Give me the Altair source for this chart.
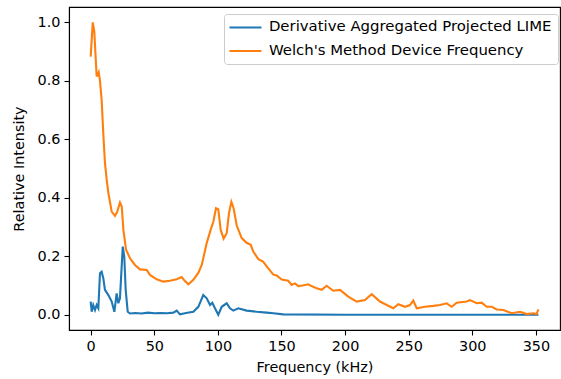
import altair as alt
import pandas as pd

series_names = ["Derivative Aggregated Projected LIME", "Welch's Method Device Frequency"]
series_colors = ["#1f77b4", "#ff7f0e"]

lime_freq = [0, 0.8, 2, 3.4, 4.7, 6, 7.3, 8.6, 9.9, 11.2, 13.9, 16.5, 18.6, 20.4, 21.7, 23,
             25.2, 26.4, 27.5, 29.1, 31, 35, 40, 45, 50, 55, 60, 65, 67.6, 70.2, 75, 80.7,
             84.6, 88.5, 91.2, 93.8, 95.6, 97.7, 100.3, 103, 106.9, 109.5, 112.1, 116,
             122.6, 130.5, 138.4, 143.6, 151.4, 200, 260, 352]
lime_val = [0.045, 0.01, 0.033, 0.016, 0.033, 0.022, 0.142, 0.147, 0.125, 0.085, 0.067, 0.045,
            0.01, 0.073, 0.039, 0.056, 0.233, 0.199, 0.085, 0.01, 0.004, 0.006, 0.004, 0.007,
            0.005, 0.006, 0.005, 0.007, 0.014, 0.001, 0.006, 0.01, 0.027, 0.067, 0.056, 0.033,
            0.041, 0.022, 0.0, 0.027, 0.039, 0.022, 0.014, 0.022, 0.014, 0.01, 0.007, 0.005,
            0.001, 0.0, 0.0, 0.0]

welch_freq = [0, 1.6, 2.8, 4.7, 6.3, 7.3, 8.6, 9.9, 11.2, 12.6, 13.9, 16.5, 19.1, 20.9, 23.0,
              24.4, 25.7, 27.8, 30.9, 34.8, 38.8, 44.0, 46.6, 51.9, 57.1, 62.3, 67.6, 71.5,
              74.1, 76.8, 80.7, 84.6, 87.3, 91.2, 94.3, 96.4, 98.5, 100.3, 102.2, 104.5, 106.9,
              108.7, 110.6, 112.3, 114.8, 118.7, 122.6, 125.8, 127.8, 131.8, 135.5, 139, 143.6,
              146.2, 150.2, 155.3, 158, 160.6, 163.2, 166.5, 171, 174, 177.7, 181.6, 185.5,
              190.7, 196, 202.5, 209.1, 215.6, 220.9, 227.4, 232.7, 237.9, 241.8, 247.1, 251,
              253.6, 256.3, 262.8, 269.3, 274.6, 279.9, 283.8, 287.7, 295.6, 298.2, 303.5,
              307.4, 311.3, 315.3, 319.2, 324.4, 331, 337.5, 342.8, 348, 350.5, 352]
welch_val = [0.883, 1.0, 0.97, 0.815, 0.83, 0.80, 0.735, 0.62, 0.52, 0.46, 0.416, 0.353, 0.338,
             0.353, 0.384, 0.37, 0.29, 0.222, 0.193, 0.17, 0.155, 0.153, 0.136, 0.121, 0.113,
             0.116, 0.121, 0.129, 0.115, 0.104, 0.119, 0.143, 0.17, 0.245, 0.29, 0.318, 0.364,
             0.361, 0.29, 0.26, 0.279, 0.347, 0.386, 0.365, 0.305, 0.262, 0.246, 0.239, 0.216,
             0.19, 0.182, 0.162, 0.137, 0.134, 0.12, 0.116, 0.102, 0.107, 0.098, 0.1, 0.104,
             0.097, 0.09, 0.085, 0.099, 0.082, 0.085, 0.062, 0.045, 0.05, 0.07, 0.045, 0.033,
             0.022, 0.036, 0.027, 0.033, 0.048, 0.022, 0.027, 0.03, 0.033, 0.039, 0.027, 0.041,
             0.045, 0.05, 0.039, 0.041, 0.027, 0.027, 0.018, 0.016, 0.005, 0.01, 0.002, 0.005,
             0.002, 0.018]

x_ticks = [0, 50, 100, 150, 200, 250, 300, 350]
y_ticks = [0.0, 0.2, 0.4, 0.6, 0.8, 1.0]

rows = []
for f, v in zip(lime_freq, lime_val):
    rows.append({"freq": f, "val": v, "series": series_names[0]})
for f, v in zip(welch_freq, welch_val):
    rows.append({"freq": f, "val": v, "series": series_names[1]})
df = pd.DataFrame(rows)

FONT = "DejaVu Sans"
FS = 14.4

chart = alt.Chart(df).mark_line(strokeWidth=2.1, clip=True).encode(
    x=alt.X("freq:Q",
            scale=alt.Scale(domain=[-17.06, 368.95], nice=False, zero=False),
            axis=alt.Axis(values=x_ticks, title="Frequency (kHz)", format="d", titlePadding=8)),
    y=alt.Y("val:Q",
            scale=alt.Scale(domain=[-0.0524, 1.0527], nice=False, zero=False),
            axis=alt.Axis(values=y_ticks, title="Relative Intensity", format=".1f", titlePadding=11)),
    color=alt.Color("series:N",
                    scale=alt.Scale(domain=series_names, range=series_colors),
                    legend=alt.Legend(title=None, orient="none", legendX=155, legendY=7,
                                      symbolType="M-3.2,0L3.2,0", symbolSize=100,
                                      symbolStrokeWidth=2.1, symbolOffset=8, labelOffset=16,
                                      labelFont=FONT, labelFontSize=14.9, labelColor="#000000",
                                      strokeColor="#cccccc", fillColor="#ffffff",
                                      cornerRadius=3, padding=6, rowPadding=7.5,
                                      labelLimit=400)),
    order=alt.Order("freq:Q"),
).properties(
    width=491, height=323,
    padding={"left": 69, "top": 7, "right": 1, "bottom": 49},
    autosize=alt.AutoSizeParams(type="none"),
    background="#ffffff",
).configure_view(
    stroke="#000000", strokeWidth=1.1
).configure_axis(
    grid=False, domainColor="#000000", domainWidth=1.1, tickColor="#000000", tickWidth=1.1,
    tickSize=5, labelFont=FONT, labelFontSize=FS, labelColor="#000000", labelPadding=4,
    titleFont=FONT, titleFontSize=FS, titleColor="#000000", titleFontWeight="normal"
)

chart.save("out.html", embed_options={"renderer": "svg", "actions": False})
